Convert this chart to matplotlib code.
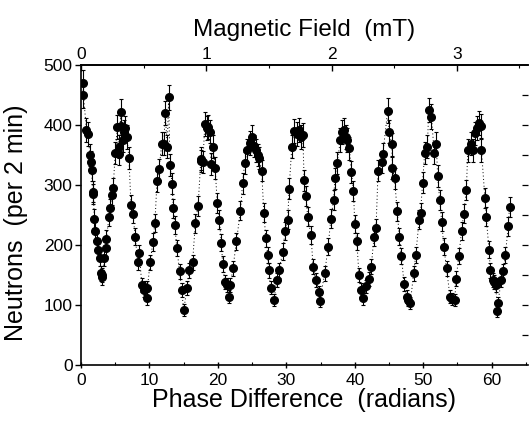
import numpy as np
import matplotlib
matplotlib.use("Agg")
import matplotlib.pyplot as plt

plt.rcParams['font.family'] = ['Liberation Sans', 'DejaVu Sans']

# Phase difference (radians) and neutron counts per 2 min
phase = [0.3, 0.35, 0.8, 1.0, 1.3, 1.4, 1.55, 1.7, 1.8, 1.95, 2.1, 2.3, 2.5, 2.8, 2.9,
         3.0, 3.1, 3.4, 3.6, 3.7, 4.1, 4.3, 4.5, 4.7, 5.0, 5.3, 5.5, 5.6, 5.8, 5.9,
         6.1, 6.3, 6.5, 6.7, 7.0, 7.3, 7.6, 7.9, 8.3, 8.5, 8.9, 9.2, 9.4, 9.6, 9.7,
         10.1, 10.5, 10.8, 11.1, 11.4, 11.8, 12.1, 12.3, 12.6, 12.8, 13.0, 13.3, 13.5,
         13.7, 14.0, 14.4, 14.7, 15.0, 15.5, 15.8, 16.3, 16.7, 17.1, 17.5, 17.6, 17.8,
         18.1, 18.4, 18.6, 18.8, 19.0, 19.3, 19.6, 19.9, 20.2, 20.5, 20.7, 21.0, 21.3,
         21.6, 21.8, 22.2, 22.7, 23.3, 23.6, 23.9, 24.3, 24.7, 25.0, 25.2, 25.5, 25.8,
         26.0, 26.4, 26.7, 27.0, 27.3, 27.4, 27.7, 28.2, 28.6, 28.9, 29.5, 29.8, 30.2,
         30.4, 30.8, 31.1, 31.5, 31.9, 32.2, 32.4, 32.6, 32.9, 33.1, 33.6, 33.9, 34.3,
         34.8, 34.9, 35.6, 36.1, 36.5, 36.9, 37.1, 37.4, 37.9, 38.2, 38.4, 38.7, 38.9,
         39.2, 39.5, 39.8, 40.0, 40.3, 40.6, 40.9, 41.2, 41.7, 42.1, 42.4, 42.8, 43.1,
         43.4, 43.9, 44.1, 44.8, 45.0, 45.4, 45.5, 45.8, 46.2, 46.5, 46.8, 47.2, 47.6,
         47.8, 48.1, 48.6, 48.9, 49.4, 49.6, 49.9, 50.2, 50.6, 50.8, 51.2, 51.6, 51.9,
         52.1, 52.4, 52.7, 53.0, 53.4, 53.9, 54.2, 54.6, 54.8, 55.2, 55.6, 55.9, 56.3,
         56.5, 57.0, 57.2, 57.5, 57.9, 58.2, 58.5, 58.5, 59.0, 59.2, 59.6, 59.8, 60.2,
         60.4, 60.6, 60.8, 60.9, 61.4, 61.7, 62.0, 62.4, 62.6]
counts = [470, 450, 392, 385, 350, 339, 325, 289, 285, 244, 224, 206, 192, 178, 153,
          146, 150, 178, 195, 210, 247, 261, 283, 295, 353, 396, 364, 352, 422, 398,
          375, 389, 395, 380, 345, 267, 252, 214, 172, 186, 133, 125, 128, 111, 128,
          171, 205, 237, 306, 326, 369, 369, 420, 364, 446, 333, 302, 261,
          233, 195, 156, 125, 92, 128, 158, 171, 236, 265, 340, 344, 338,
          402, 395, 397, 389, 335, 364, 328, 270, 242, 204, 168, 139, 133,
          114, 133, 161, 206, 257, 303, 336, 358, 370, 380, 365, 358, 350,
          345, 324, 254, 211, 183, 158, 129, 108, 142, 158, 189, 224, 242,
          294, 364, 390, 385, 392, 380, 383, 308, 281, 247, 217, 164, 142,
          121, 107, 153, 197, 244, 275, 311, 336, 375, 388, 392, 380, 375,
          361, 322, 290, 235, 206, 150, 125, 111, 131, 143, 164, 213, 228,
          324, 339, 352, 424, 389, 368, 328, 311, 256, 214, 182, 135, 114,
          108, 103, 153, 183, 242, 254, 304, 353, 364, 425, 414, 353, 369,
          315, 275, 239, 197, 161, 114, 110, 108, 144, 182, 224, 252, 292,
          358, 369, 358, 386, 395, 403, 398, 358, 278, 247, 192, 158, 142,
          138, 133, 90, 103, 142, 156, 183, 231, 263]

# Magnetic field scale: radians of phase per mT
rad_per_mT = 18.3
field_ticks = [0, 1, 2, 3]

counts = np.asarray(counts, dtype=float)
counts_err = np.sqrt(counts)

fig = plt.figure(figsize=(5.29, 4.22), dpi=100)
ax = fig.add_axes([81 / 529, 57 / 422, (528 - 81) / 529, 300 / 422])

ax.plot(phase, counts, linestyle=(0, (1, 2.5)), color='black', linewidth=0.7)
ax.errorbar(phase, counts, yerr=counts_err, fmt='o', color='black',
            markersize=5.5, elinewidth=0.8, capsize=1.5, capthick=0.8)

ax.set_xlim(0, 65.3)
ax.set_ylim(0, 500)
ax.set_xticks(np.arange(0, 61, 10))
ax.set_xticks(np.arange(5, 66, 5), minor=True)
ax.set_yticks(np.arange(0, 501, 100))

for s in ['left', 'bottom', 'top']:
    ax.spines[s].set_linewidth(1.2)
ax.spines['right'].set_visible(False)

ax.tick_params(axis='x', which='major', direction='inout', length=5, width=1,
               labelsize=12.5, pad=3)
ax.tick_params(axis='x', which='minor', direction='in', length=2, width=0.8)
ax.tick_params(axis='y', which='major', direction='out', length=4, width=1,
               labelsize=12.5, pad=2)
ax.set_xlabel('Phase Difference  (radians)', fontsize=18, labelpad=0)
ax.set_ylabel('Neutrons  (per 2 min)', fontsize=18)
ax.yaxis.set_label_coords(-0.118, 0.475)

# Right-hand inward ticks every 50 counts
ax_r = ax.twinx()
ax_r.set_ylim(0, 500)
ax_r.set_yticks(np.arange(50, 451, 50))
ax_r.tick_params(axis='y', direction='in', length=4, width=0.9, labelright=False)
for s in ax_r.spines.values():
    s.set_visible(False)

# Top axis: magnetic field
ax_t = ax.secondary_xaxis('top', functions=(lambda p: p / rad_per_mT,
                                            lambda b: b * rad_per_mT))
ax_t.set_xticks(field_ticks)
ax_t.set_xticks([0.5, 1.5, 2.5, 3.5], minor=True)
ax_t.tick_params(axis='x', which='major', direction='in', length=4, width=1,
                 labelsize=12.5, pad=2)
ax_t.tick_params(axis='x', which='minor', direction='in', length=2, width=0.8)
ax_t.spines['top'].set_linewidth(1.2)
ax_t.set_xlabel('Magnetic Field  (mT)', fontsize=17.5, labelpad=8)

fig.savefig('out.png', dpi=100)
